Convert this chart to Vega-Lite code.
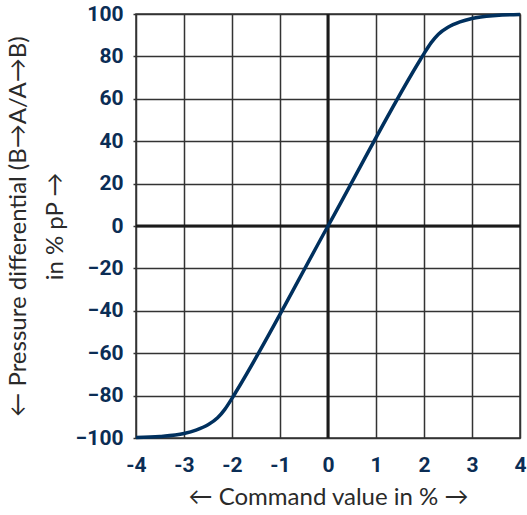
{
  "$schema": "https://vega.github.io/schema/vega-lite/v6.json",
  "width": 384,
  "height": 424,
  "autosize": "none",
  "padding": {"left": 136, "top": 14, "right": 7, "bottom": 78},
  "background": "white",
  "config": {
    "view": {"stroke": "#333333", "strokeWidth": 1.5},
    "axis": {
      "gridColor": "#333333",
      "gridWidth": 1.5,
      "gridOpacity": 1,
      "domain": false,
      "tickColor": "#333333",
      "labelFont": "Roboto",
      "labelFontWeight": "bold",
      "labelFontSize": 21,
      "labelColor": "#0b2d55",
      "titleFont": "Lato",
      "titleFontWeight": "normal",
      "titleFontSize": 24,
      "titleColor": "#2a2a2a"
    }
  },
  "layer": [
    {
      "data": {"values": [{"v": 0}]},
      "mark": {"type": "rule", "color": "#1a1a1a", "strokeWidth": 3},
      "encoding": {"y": {"field": "v", "type": "quantitative", "scale": {"domain": [-100, 100]}}}
    },
    {
      "data": {"values": [{"v": 0}]},
      "mark": {"type": "rule", "color": "#1a1a1a", "strokeWidth": 3},
      "encoding": {"x": {"field": "v", "type": "quantitative", "scale": {"domain": [-4, 4]}}}
    },
    {
      "data": {
        "values": [
          {"cmd": -4, "p": -99.8},
          {"cmd": -3.5, "p": -99.3},
          {"cmd": -3, "p": -97.9},
          {"cmd": -2.75, "p": -96.3},
          {"cmd": -2.5, "p": -93.8},
          {"cmd": -2.3, "p": -90.5},
          {"cmd": -2.15, "p": -86.5},
          {"cmd": -2.0, "p": -81.3},
          {"cmd": -1.9, "p": -77.6},
          {"cmd": 0, "p": 0},
          {"cmd": 1.9, "p": 77.6},
          {"cmd": 2.0, "p": 81.3},
          {"cmd": 2.15, "p": 86.5},
          {"cmd": 2.3, "p": 90.5},
          {"cmd": 2.5, "p": 93.8},
          {"cmd": 2.75, "p": 96.3},
          {"cmd": 3, "p": 97.9},
          {"cmd": 3.5, "p": 99.3},
          {"cmd": 4, "p": 99.8}
        ]
      },
      "mark": {"type": "line", "color": "#00305e", "strokeWidth": 3.5, "interpolate": "monotone"},
      "encoding": {
        "x": {
          "field": "cmd",
          "type": "quantitative",
          "scale": {"domain": [-4, 4], "nice": false, "zero": false},
          "axis": {
            "values": [-4, -3, -2, -1, 0, 1, 2, 3, 4],
            "labelExpr": "replace(datum.label, '−', '-')",
            "labelFlush": false,
            "ticks": false,
            "labelPadding": 16,
            "title": "← Command value in % →",
            "titlePadding": 10
          }
        },
        "y": {
          "field": "p",
          "type": "quantitative",
          "scale": {"domain": [-100, 100], "nice": false},
          "axis": {
            "values": [-100, -80, -60, -40, -20, 0, 20, 40, 60, 80, 100],
            "tickSize": 3,
            "tickWidth": 1.5,
            "labelPadding": 10,
            "title": ["← Pressure differential (B→A/A→B)", "in % pP →"],
            "titleLineHeight": 37,
            "titlePadding": 8
          }
        }
      }
    }
  ]
}
